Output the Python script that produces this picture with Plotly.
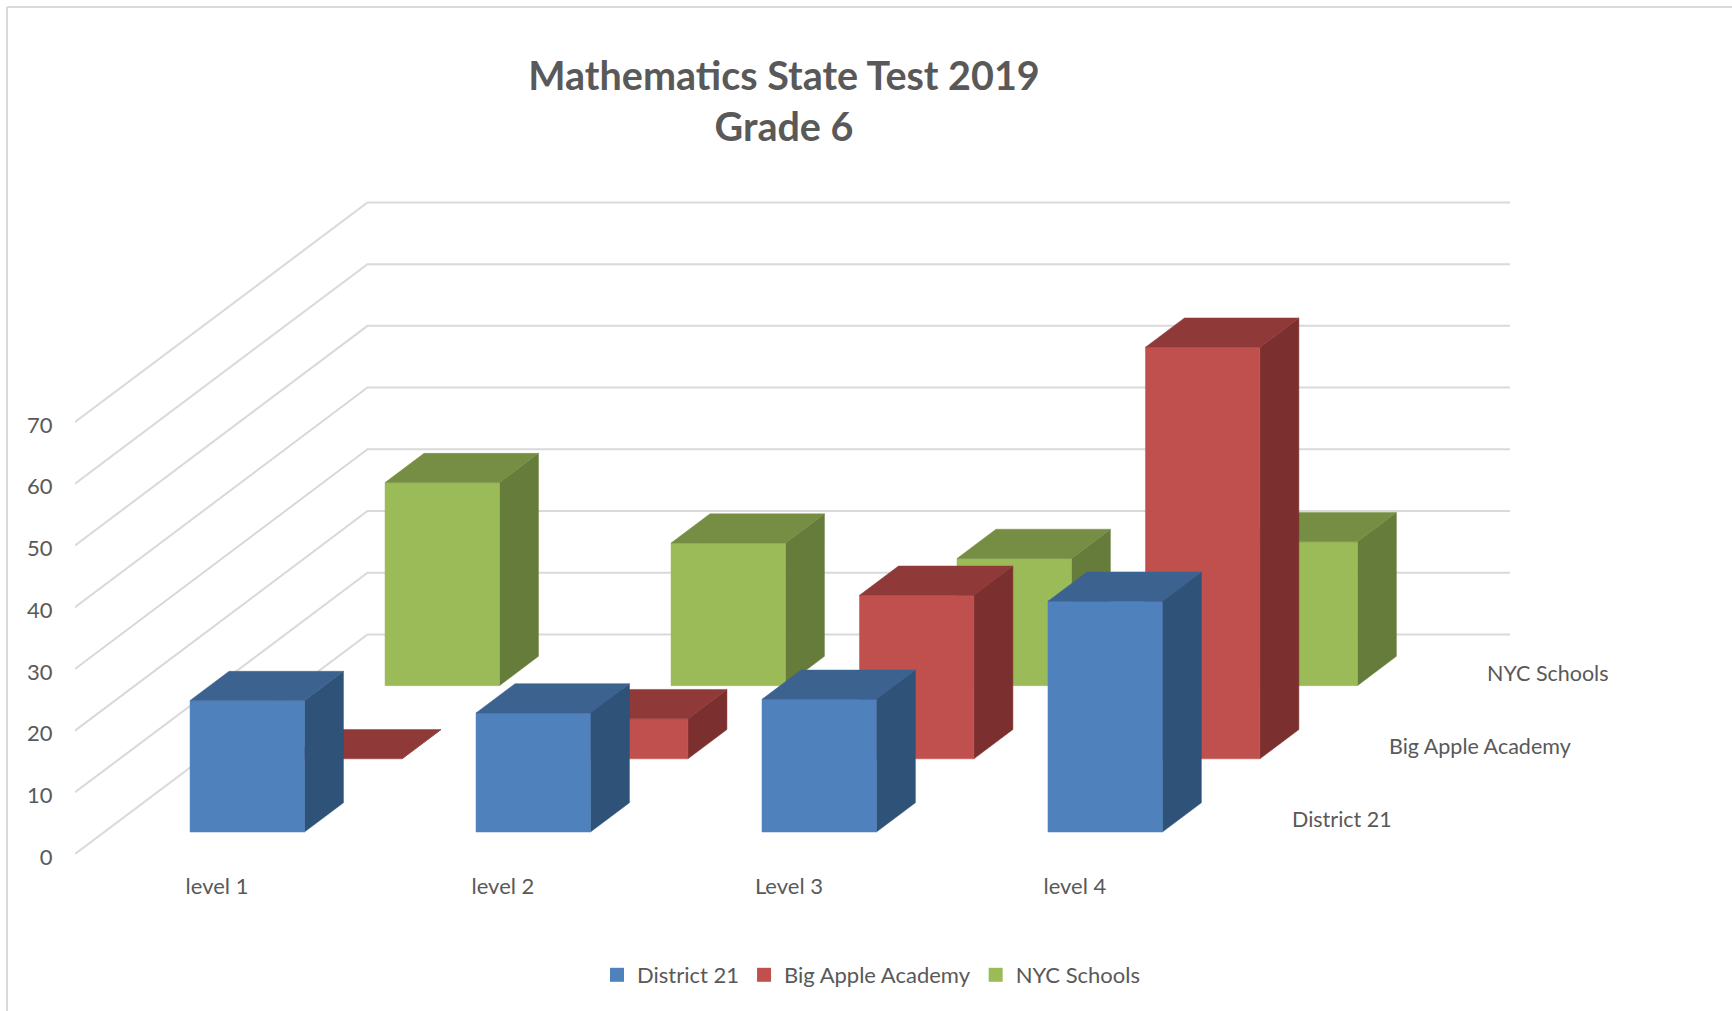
import plotly.graph_objects as go

# ---- data ----
categories = ["level 1", "level 2", "Level 3", "level 4"]
series_names = ["District 21", "Big Apple Academy", "NYC Schools"]
district_21 = [21.3, 19.3, 21.5, 37.4]
big_apple = [0, 6.5, 26.5, 66.7]
nyc_schools = [32.9, 23.1, 20.6, 23.3]
value_ticks = [0, 10, 20, 30, 40, 50, 60, 70]

# ---- styling ----
front = ["#4F81BD", "#C0504D", "#9BBB59"]
top = ["#3C6290", "#8F3A38", "#768E43"]
side = ["#2F5279", "#7B2F2E", "#667C3A"]
GRID = "#D9D9D9"
TEXT = "#595959"
FONT = "Lato"

W, H = 1732, 1011
L, B, R, T = 75, 157, 87, 197
XMAX, YMAX = 5.49, 106.47
PX_X = (W - L - R) / XMAX
PX_Y = (H - T - B) / YMAX

# oblique projection: one depth slot moves right and up
DEPTH_X = 97.5 / PX_X
DEPTH_Y = 73.2 / PX_Y
BAR_W = 0.4
BAR_Z0, BAR_Z1 = 0.3, 0.7
WALL_END = 3.995


def proj(cat, val, z):
    return cat + z * DEPTH_X, val + z * DEPTH_Y


def poly(points, color):
    xs, ys = zip(*[proj(*p) for p in points])
    return go.Scatter(
        x=list(xs) + [xs[0]], y=list(ys) + [ys[0]], mode="lines", fill="toself",
        fillcolor=color, line=dict(color=color, width=0.5),
        hoverinfo="skip", showlegend=False,
    )


fig = go.Figure()

# walls' gridlines
for v in value_ticks:
    pts = [proj(0, v, 0), proj(0, v, 3), proj(WALL_END, v, 3)]
    fig.add_trace(go.Scatter(
        x=[p[0] for p in pts], y=[p[1] for p in pts], mode="lines",
        line=dict(color=GRID, width=2), hoverinfo="skip", showlegend=False,
    ))

# bars, back series first
all_values = [district_21, big_apple, nyc_schools]
for s in (2, 1, 0):
    for c, v in enumerate(all_values[s]):
        x0 = c + (1 - BAR_W) / 2
        x1 = x0 + BAR_W
        z0, z1 = s + BAR_Z0, s + BAR_Z1
        fig.add_trace(poly([(x1, 0, z0), (x1, 0, z1), (x1, v, z1), (x1, v, z0)], side[s]))
        if v > 0:
            fig.add_trace(poly([(x0, 0, z0), (x1, 0, z0), (x1, v, z0), (x0, v, z0)], front[s]))
        fig.add_trace(poly([(x0, v, z0), (x1, v, z0), (x1, v, z1), (x0, v, z1)], top[s]))

# legend entries
for s, name in enumerate(series_names):
    fig.add_trace(go.Scatter(
        x=[None], y=[None], mode="markers", name=name,
        marker=dict(symbol="square", size=14, color=front[s]),
    ))

# depth axis labels
annotations = []
for s, name in enumerate(series_names):
    ax, ay = proj(4.078, 0, s + 0.5)
    annotations.append(dict(
        x=ax, y=ay, xref="x", yref="y", text=name, showarrow=False, yshift=-1.5,
        xanchor="left", yanchor="middle", font=dict(family=FONT, size=21.5, color=TEXT),
    ))

px_to_paper_x = lambda px: (px - L) / (W - L - R)
px_to_paper_y = lambda py: (H - B - py) / (H - T - B)

fig.update_layout(
    width=W, height=H,
    margin=dict(l=L, r=R, t=T, b=B, pad=0),
    paper_bgcolor="white", plot_bgcolor="white",
    title=dict(
        text="Mathematics State Test 2019<br>Grade 6",
        x=px_to_paper_x(784), xref="paper", xanchor="center",
        y=1 - 89.5 / H, yref="container", yanchor="middle",
        font=dict(family=FONT, size=39.5, color=TEXT, weight="bold"),
    ),
    xaxis=dict(
        range=[0, XMAX], showgrid=False, zeroline=False, showline=False,
        tickmode="array", tickvals=[i + 0.5 for i in range(len(categories))],
        ticktext=categories, ticks="outside", ticklen=13, tickcolor="rgba(0,0,0,0)",
        ticklabelshift=-1,
        tickfont=dict(family=FONT, size=22, color=TEXT),
    ),
    yaxis=dict(
        range=[0, YMAX], showgrid=False, zeroline=False, showline=False,
        tickmode="array", tickvals=value_ticks, ticks="outside", ticklen=17,
        tickcolor="rgba(0,0,0,0)", ticklabelshift=3,
        tickfont=dict(family=FONT, size=22, color=TEXT),
    ),
    legend=dict(
        orientation="h", x=px_to_paper_x(597), xanchor="left",
        y=px_to_paper_y(975), yanchor="middle",
        font=dict(family=FONT, size=22, color=TEXT), bgcolor="rgba(0,0,0,0)",
    ),
    annotations=annotations,
    shapes=[
        dict(type="line", xref="paper", yref="paper",
             x0=px_to_paper_x(7), x1=px_to_paper_x(W), y0=px_to_paper_y(7), y1=px_to_paper_y(7),
             line=dict(color=GRID, width=2)),
        dict(type="line", xref="paper", yref="paper",
             x0=px_to_paper_x(7), x1=px_to_paper_x(7), y0=px_to_paper_y(7), y1=px_to_paper_y(H),
             line=dict(color=GRID, width=2)),
    ],
)

fig.write_html("out.html", config={"displayModeBar": False},
               post_script="document.body.style.margin='0';")
